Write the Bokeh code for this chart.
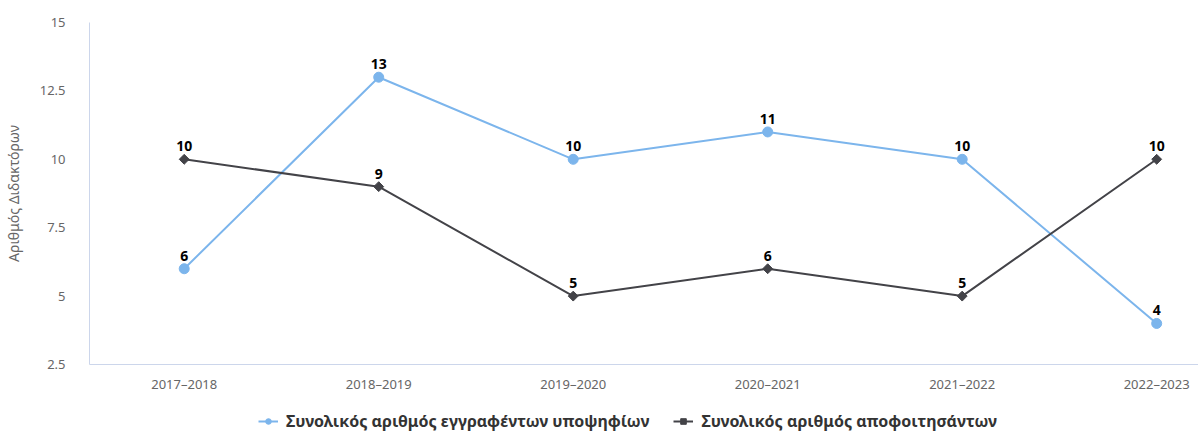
import math
from bokeh.plotting import figure
from bokeh.layouts import column
from bokeh.models import ColumnDataSource, FixedTicker, Legend, LegendItem, LabelSet
from bokeh.core.properties import value
from bokeh.embed import file_html
from bokeh.resources import INLINE

years = ["2017–2018", "2018–2019", "2019–2020", "2020–2021", "2021–2022", "2022–2023"]
enrolled = [6, 13, 10, 11, 10, 4]
graduated = [10, 9, 5, 6, 5, 10]
y_ticks = [2.5, 5, 7.5, 10, 12.5, 15]
y_tick_labels = ["2.5", "5", "7.5", "10", "12.5", "15"]
series_names = ["Συνολικός αριθμός εγγραφέντων υποψηφίων", "Συνολικός αριθμός αποφοιτησάντων"]

BLUE = "#7cb5ec"
DARK = "#434348"
FONT = "Noto Sans"

xs = list(range(len(years)))
src_a = ColumnDataSource(dict(x=xs, y=enrolled, lbl=[str(v) for v in enrolled]))
src_b = ColumnDataSource(dict(x=xs, y=graduated, lbl=[str(v) for v in graduated]))

p = figure(width=1198, height=395, output_backend="svg", toolbar_location=None,
           x_range=(-0.487, 5.215), y_range=(2.5, 15),
           min_border_left=87, min_border_right=0, min_border_top=22, min_border_bottom=22)
p.outline_line_color = None
p.background_fill_color = "white"
p.border_fill_color = "white"
p.xgrid.visible = False
p.ygrid.visible = False

# axes
p.xaxis.ticker = FixedTicker(ticks=xs)
p.xaxis.major_label_overrides = {i: t for i, t in enumerate(years)}
p.yaxis.ticker = FixedTicker(ticks=y_ticks)
p.yaxis.major_label_overrides = {t: l for t, l in zip(y_ticks, y_tick_labels)}
for ax in (p.xaxis, p.yaxis):
    ax.axis_line_color = "#ccd6eb"
    ax.axis_line_width = 1
    ax.major_tick_line_color = None
    ax.minor_tick_line_color = None
    ax.major_label_text_color = "#666666"
    ax.major_label_text_font = FONT
    ax.major_label_text_font_size = "13px"
p.xaxis.major_label_standoff = 4
p.yaxis.major_label_standoff = 18
p.yaxis.axis_label = "Αριθμός Διδακτόρων"
p.yaxis.axis_label_text_font = FONT
p.yaxis.axis_label_text_font_style = "normal"
p.yaxis.axis_label_text_font_size = "14px"
p.yaxis.axis_label_text_color = "#666666"
p.yaxis.axis_label_standoff = 14

# series
la = p.line("x", "y", source=src_a, line_color=BLUE, line_width=2)
ma = p.scatter("x", "y", source=src_a, marker="circle", size=10, fill_color=BLUE, line_color=BLUE)
lb = p.line("x", "y", source=src_b, line_color=DARK, line_width=2)
mb = p.scatter("x", "y", source=src_b, marker="square", size=7, angle=math.pi / 4,
               fill_color=DARK, line_color=DARK)

for src in (src_a, src_b):
    p.add_layout(LabelSet(x="x", y="y", text="lbl", source=src, x_offset=0, y_offset=8,
                          text_align="center", text_baseline="bottom",
                          text_font=value(FONT), text_font_style="bold", text_font_size="14px",
                          text_color="#000000"))

# legend strip below the chart; its ranges keep the series glyphs out of view
leg = figure(width=1198, height=37, output_backend="svg", toolbar_location=None,
             x_axis_type=None, y_axis_type=None, x_range=(100, 101), y_range=(100, 101),
             min_border=0, min_border_left=87)
leg.outline_line_color = None
leg.xgrid.visible = False
leg.ygrid.visible = False
ga = leg.line("x", "y", source=src_a, line_color=BLUE, line_width=2)
gma = leg.scatter("x", "y", source=src_a, marker="circle", size=10, fill_color=BLUE, line_color=BLUE)
gb = leg.line("x", "y", source=src_b, line_color=DARK, line_width=2)
gmb = leg.scatter("x", "y", source=src_b, marker="square", size=7, angle=math.pi / 4,
                  fill_color=DARK, line_color=DARK)
legend = Legend(items=[LegendItem(label=series_names[0], renderers=[ga, gma], index=0),
                       LegendItem(label=series_names[1], renderers=[gb, gmb], index=0)],
                orientation="horizontal", location=(169, 0),
                label_text_font=FONT, label_text_font_size="16px", label_text_color="#333333",
                label_text_font_style="bold", label_height=16,
                glyph_width=20, glyph_height=14, spacing=24, label_standoff=8,
                background_fill_alpha=0, border_line_color=None, padding=0, margin=0)
leg.add_layout(legend)

open("out.html", "w").write(file_html(column(p, leg, spacing=0), INLINE))
